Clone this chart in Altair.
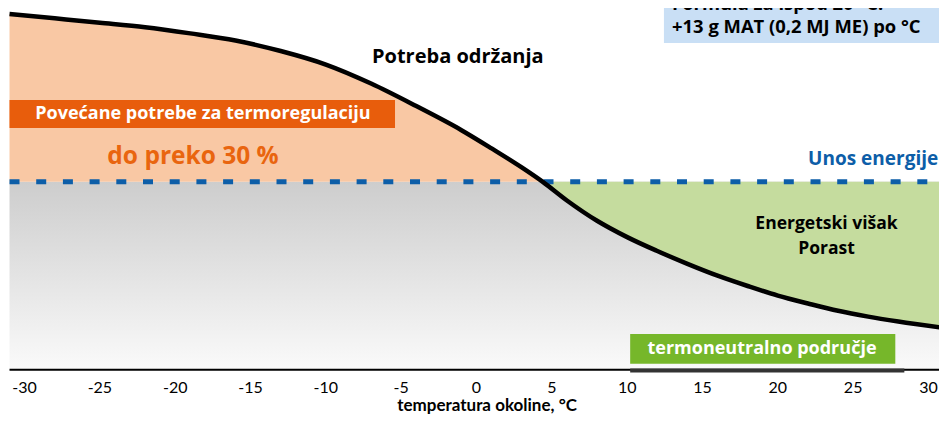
import altair as alt
import pandas as pd

# ---- data ----
temperature = [-31, -28, -25, -22, -19, -16, -13, -10, -7, -4, -1, 1, 3, 4.4,
               6, 8, 10, 12, 14, 16, 18, 20, 22, 24, 26, 28, 31]
maintenance = [189.3, 187.0, 184.7, 182.3, 179.0, 175.2, 169.6, 162.4, 152.3,
               140.3, 127.5, 117.8, 107.7, 100, 90.1, 79.3, 70.6, 63.2, 56.4,
               50.1, 44.6, 39.5, 35.3, 31.4, 28.3, 25.7, 22.3]
energy_intake = 100
crossing_temp = 4.4
thermoneutral = [10.2, 28.4]
x_ticks = [-30, -25, -20, -15, -10, -5, 0, 5, 10, 15, 20, 25, 30]
x_title = "temperatura okoline, °C"

df = pd.DataFrame({"t": temperature, "need": maintenance})
df["intake"] = energy_intake
left = df[df["t"] <= crossing_temp]
right = df[df["t"] >= crossing_temp]
ticks_df = pd.DataFrame({"tick": x_ticks, "label": [str(v) for v in x_ticks]})

BOLD = "Open Sans"
AXF = "Lato"
X_MIN, X_MAX = -31.1, 30.7
xs = alt.Scale(domain=[X_MIN, X_MAX], nice=False, zero=False)
ys = alt.Scale(domain=[-23.5, 192.5], nice=False, zero=False)


def X(v):
    return alt.X(datum=v, scale=xs, axis=None)


def Y(v):
    return alt.Y(datum=v, scale=ys, axis=None)


gray = alt.Chart().mark_rect(
    color=alt.Gradient(
        gradient="linear",
        stops=[alt.GradientStop(color="#cdcdcd", offset=0),
               alt.GradientStop(color="#fafafa", offset=1)],
        x1=0, x2=0, y1=0, y2=1,
    )
).encode(
    x=X(-31), x2=alt.X2(datum=X_MAX), y=Y(0), y2=alt.Y2(datum=energy_intake),
)

orange = alt.Chart(left).mark_area(color="#f9c8a4", interpolate="monotone",
                                   clip=True).encode(
    x=alt.X("t:Q", scale=xs, axis=None),
    y=alt.Y("need:Q", scale=ys, axis=None),
    y2="intake:Q",
)

green = alt.Chart(right).mark_area(color="#c5dc9e", interpolate="monotone",
                                   clip=True).encode(
    x=alt.X("t:Q", scale=xs, axis=None),
    y=alt.Y("intake:Q", scale=ys, axis=None),
    y2="need:Q",
)

dashed = alt.Chart().mark_rule(color="#0d5ea8", strokeWidth=5,
                               strokeDash=[10, 16.7]).encode(
    x=X(-31), x2=alt.X2(datum=X_MAX), y=Y(energy_intake)
)

curve = alt.Chart(df).mark_line(color="black", strokeWidth=4.5,
                                interpolate="monotone", clip=True).encode(
    x=alt.X("t:Q", scale=xs, axis=None),
    y=alt.Y("need:Q", scale=ys, axis=None),
)

# x axis: domain line, thermoneutral segment, tick labels and title
axis_line = alt.Chart().mark_rule(color="black", strokeWidth=2).encode(
    x=X(-31), x2=alt.X2(datum=X_MAX), y=Y(0)
)
tn_axis = alt.Chart().mark_rule(color="#333333", strokeWidth=4).encode(
    x=X(thermoneutral[0]), x2=alt.X2(datum=thermoneutral[1]), y=Y(-0.4)
)
tick_labels = alt.Chart(ticks_df).mark_text(
    font=AXF, fontSize=16, color="black", baseline="middle", align="center"
).encode(
    x=alt.X("tick:Q", scale=xs, axis=None),
    y=Y(-9.6),
    text="label:N",
)
axis_title = alt.Chart().mark_text(
    text=x_title, font=AXF, fontSize=17, fontWeight="bold", color="black",
    baseline="middle", align="center",
).encode(x=X(0.7), y=Y(-19.4))

orange_box = alt.Chart().mark_rect(color="#e85d0c").encode(
    x=X(-31), x2=alt.X2(datum=-5.41), y=Y(128.7), y2=alt.Y2(datum=143.6)
)
green_box = alt.Chart().mark_rect(color="#76b72a").encode(
    x=X(10.2), x2=alt.X2(datum=27.8), y=Y(3.2), y2=alt.Y2(datum=19.1)
)
blue_box = alt.Chart().mark_rect(color="#c9dff5").encode(
    x=X(12.44), x2=alt.X2(datum=X_MAX), y=Y(173.9), y2=alt.Y2(datum=215)
)


def label(text, x, y, size, color="black", align="center"):
    return alt.Chart().mark_text(
        text=text, font=BOLD, fontWeight="bold", fontSize=size,
        color=color, align=align, baseline="middle",
    ).encode(x=X(x), y=Y(y))


texts = [
    label("Potreba održanja", -6.94, 166.5, 20, align="left"),
    label("Povećane potrebe za termoregulaciju", -18.16, 136.2, 18, color="white"),
    label("do preko 30 %", -18.82, 113.3, 24.5, color="#e9650f"),
    label("Unos energije", 30.65, 112.4, 19, color="#0d5ea8", align="right"),
    label("Energetski višak", 23.23, 77.6, 17.5),
    label("Porast", 23.23, 64.4, 17.5),
    label("termoneutralno područje", 18.95, 11.2, 18, color="white"),
    label("Formula za ispod 20 °C:", 12.98, 194.7, 18.4, align="left"),
    label("+13 g MAT (0,2 MJ ME) po °C", 12.98, 182.4, 18.4, align="left"),
]

chart = alt.layer(
    gray, orange, green, dashed, curve, axis_line, tn_axis, tick_labels,
    axis_title, orange_box, green_box, blue_box, *texts
).properties(
    width=931, height=406,
    padding={"left": 0, "top": 0, "right": 0, "bottom": 0},
    autosize="none", background="white",
).configure_view(stroke=None)

chart.save("out.html", embed_options={"renderer": "svg", "actions": False})
